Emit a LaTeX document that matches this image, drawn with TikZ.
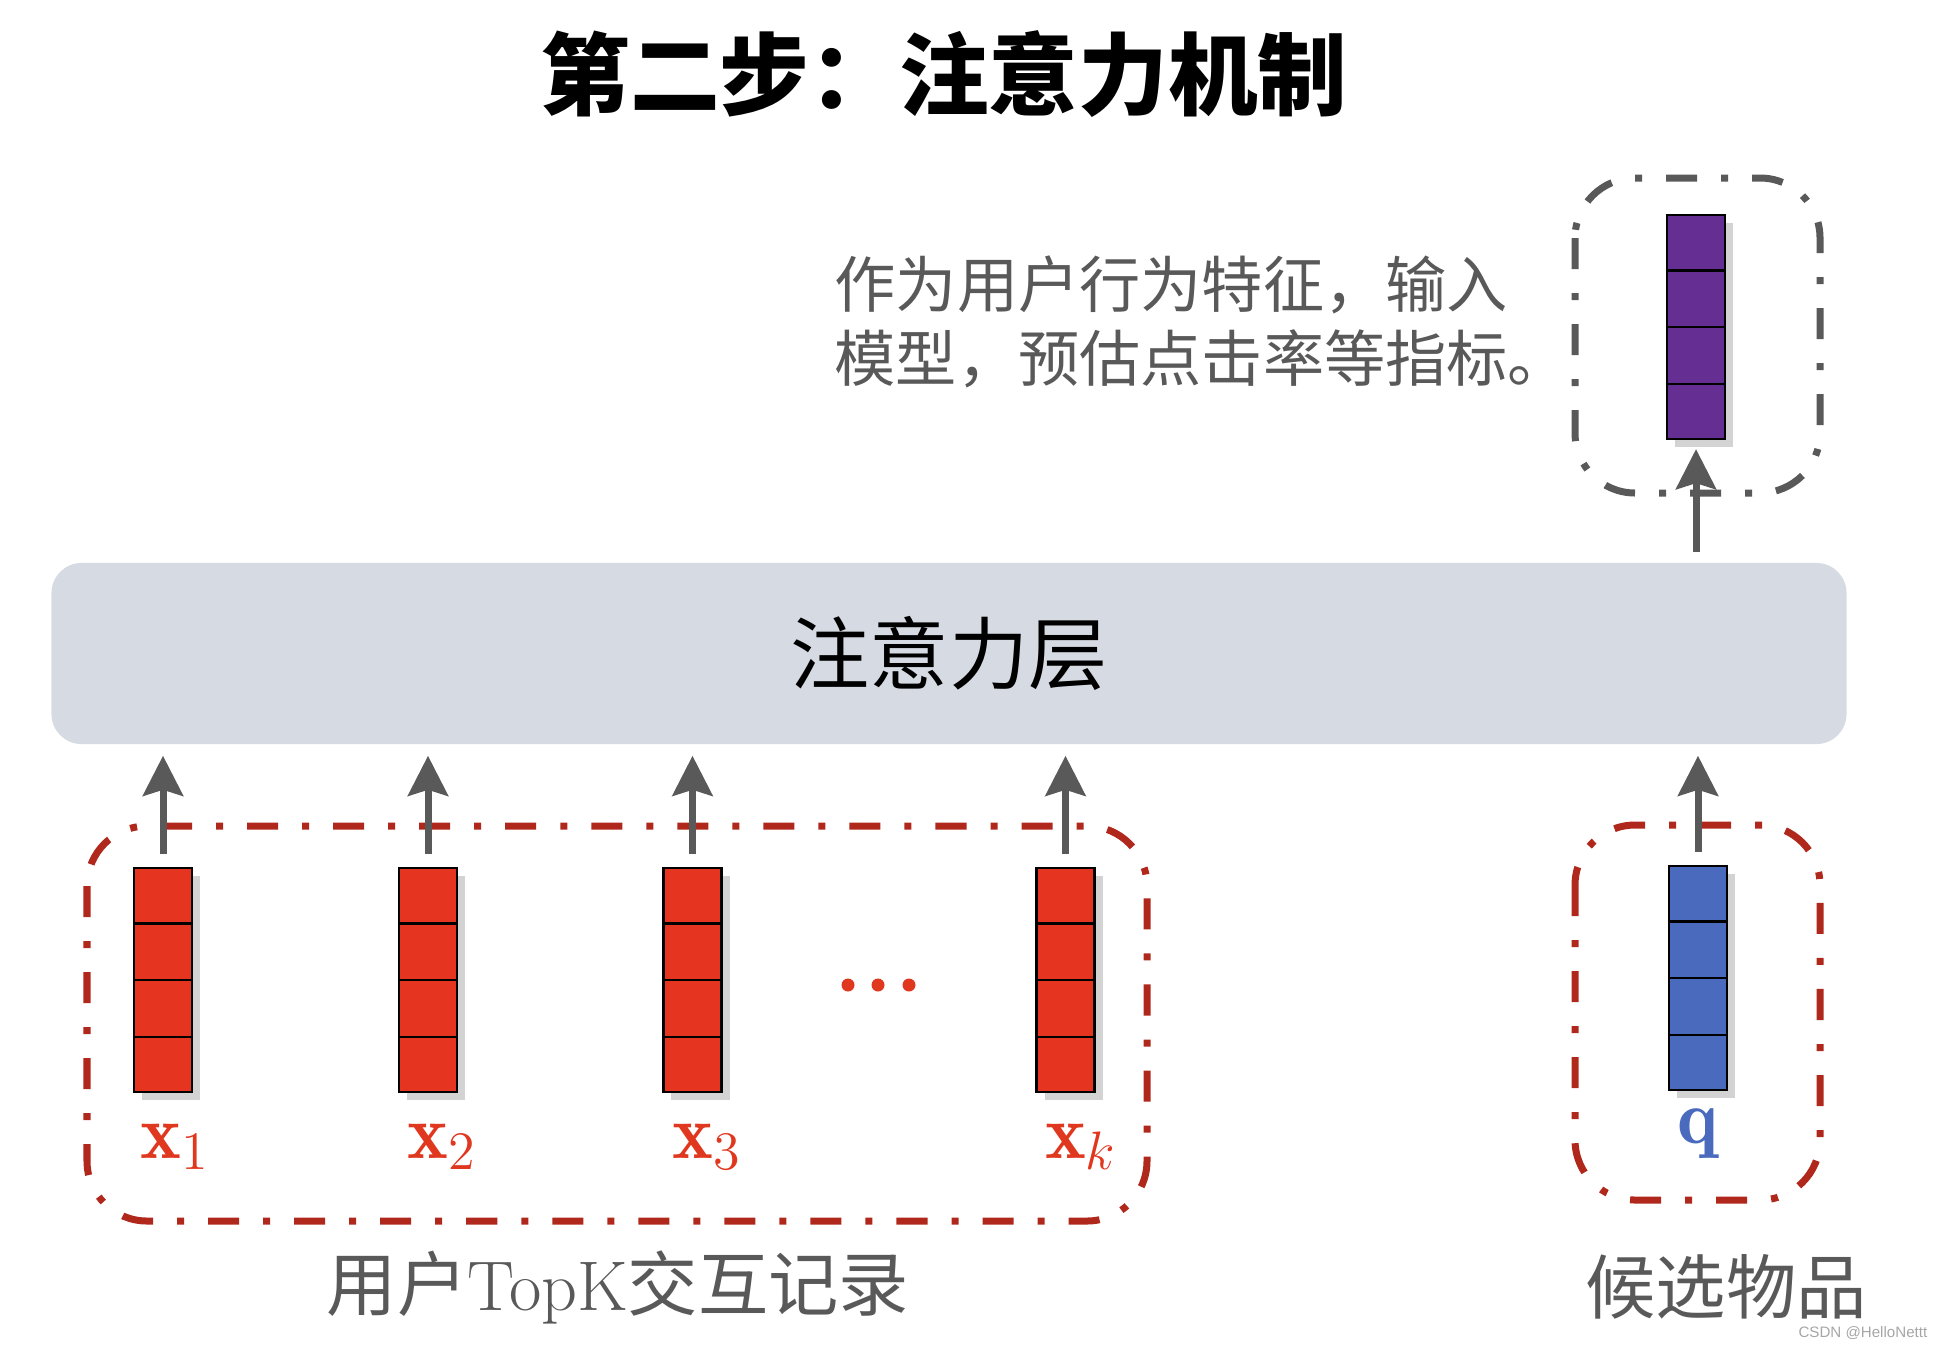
\RequirePackage{fix-cm}
\documentclass[tikz,border=0pt]{standalone}
\usepackage{amsmath}
\usepackage{fontspec}
\usepackage{xcolor}
\usetikzlibrary{arrows.meta,calc,positioning,shadows}

\newfontfamily\cjk{Noto Sans CJK SC}
\newfontfamily\markfont{Liberation Sans}

\definecolor{vred}{HTML}{E5341F}
\definecolor{labred}{HTML}{E0371F}
\definecolor{qblue}{HTML}{4A6BBD}
\definecolor{vpurple}{HTML}{652E92}
\definecolor{framered}{HTML}{B0281C}
\definecolor{darkgray}{HTML}{595959}
\definecolor{attnfill}{HTML}{D6DBE3}

\tikzset{
  vecbox/.style={draw=black, line width=0.6pt, minimum width=0.58cm, minimum height=2.24cm, inner sep=0pt,
    drop shadow={shadow xshift=0.08cm, shadow yshift=-0.08cm, opacity=0.35}},
  garrow/.style={draw=darkgray, line width=0.07cm, -{Stealth[length=0.4cm, width=0.4cm, inset=0.06cm]}},
  redframe/.style={draw=framered, line width=0.07cm, rounded corners=0.6cm,
    dash pattern=on 0.31cm off 0.24cm on 0.07cm off 0.24cm},
  grayframe/.style={redframe, draw=darkgray},
  xlab/.style={text=labred, font=\fontsize{22}{26}\selectfont, anchor=base, inner sep=0pt},
  sublab/.style={text=darkgray, font=\cjk\fontsize{20}{24}\selectfont, inner sep=0pt},
}

\begin{document}
\begin{tikzpicture}[x=0.01cm, y=-0.01cm]
	\useasboundingbox (0,0) rectangle (1940,1348);
	% title
	\node[font=\cjk\bfseries\fontsize{25.5}{30}\selectfont, inner sep=0pt] (title) at (944,74) {第二步：注意力机制};
	% attention layer
	\node[fill=attnfill, rounded corners=0.3cm, minimum width=17.94cm, minimum height=1.81cm,
		font=\cjk\fontsize{22.5}{26}\selectfont] (attn) at (949,653.5) {注意力层};
	% vectors
	\node[vecbox, fill=vred] (x1) at (163,980) {};
	\node[vecbox, fill=vred] (x2) at (428,980) {};
	\node[vecbox, fill=vred] (x3) at (692.5,980) {};
	\node[vecbox, fill=vred] (xk) at (1065.5,980) {};
	\node[vecbox, fill=qblue] (q) at (1698,978) {};
	\node[vecbox, fill=vpurple] (p) at (1696,327) {};
	\foreach \n in {x1,x2,x3,xk,q,p}
		\foreach \f in {0.25,0.5,0.75}
			\draw[line width=0.6pt] ($(\n.north west)!\f!(\n.south west)$) -- ($(\n.north east)!\f!(\n.south east)$);
	% frames
	\draw[redframe] (87,826) rectangle (1147,1221);
	\draw[redframe] (1575,825) rectangle (1820,1200);
	\draw[grayframe] (1575,178) rectangle (1820,493);
	% arrows
	\foreach \n in {x1,x2,x3,xk,q}
		\draw[garrow, shorten <=0.13cm, shorten >=0.11cm] (\n.north) -- (\n.north |- attn.south);
	\draw[garrow, shorten <=0.1cm, shorten >=0.09cm] (attn.north -| p.south) -- (p.south);
	% labels
	\node[xlab] (l1) at (175,1158) {$\mathbf{x}_1$};
	\node[xlab] (l2) at (442,1158) {$\mathbf{x}_2$};
	\node[xlab] (l3) at (707,1158) {$\mathbf{x}_3$};
	\node[xlab] (lk) at (1081,1158) {$\mathbf{x}_k$};
	\node[xlab, text=qblue] (lq) at (1698,1143) {$\mathbf{q}$};
	\foreach \xx in {848,878,909}
		\fill[labred] (\xx,985) circle (0.065cm);
	% notes
	\node[text=darkgray, anchor=west, align=left, inner sep=0pt,
		font=\cjk\fontsize{17.4}{21}\selectfont] (note) at (834,322) {作为用户行为特征，输入\\模型，预估点击率等指标。};
	\node[sublab] (histlab) at (618,1287) {用户{\rmfamily TopK}交互记录};
	\node[sublab] (candlab) at (1726,1287) {候选物品};
	\node[text=gray!70, inner sep=0pt, anchor=east, font=\markfont\fontsize{4.3}{5}\selectfont] (mark) at (1928,1333) {CSDN @HelloNettt};
\end{tikzpicture}
\end{document}
